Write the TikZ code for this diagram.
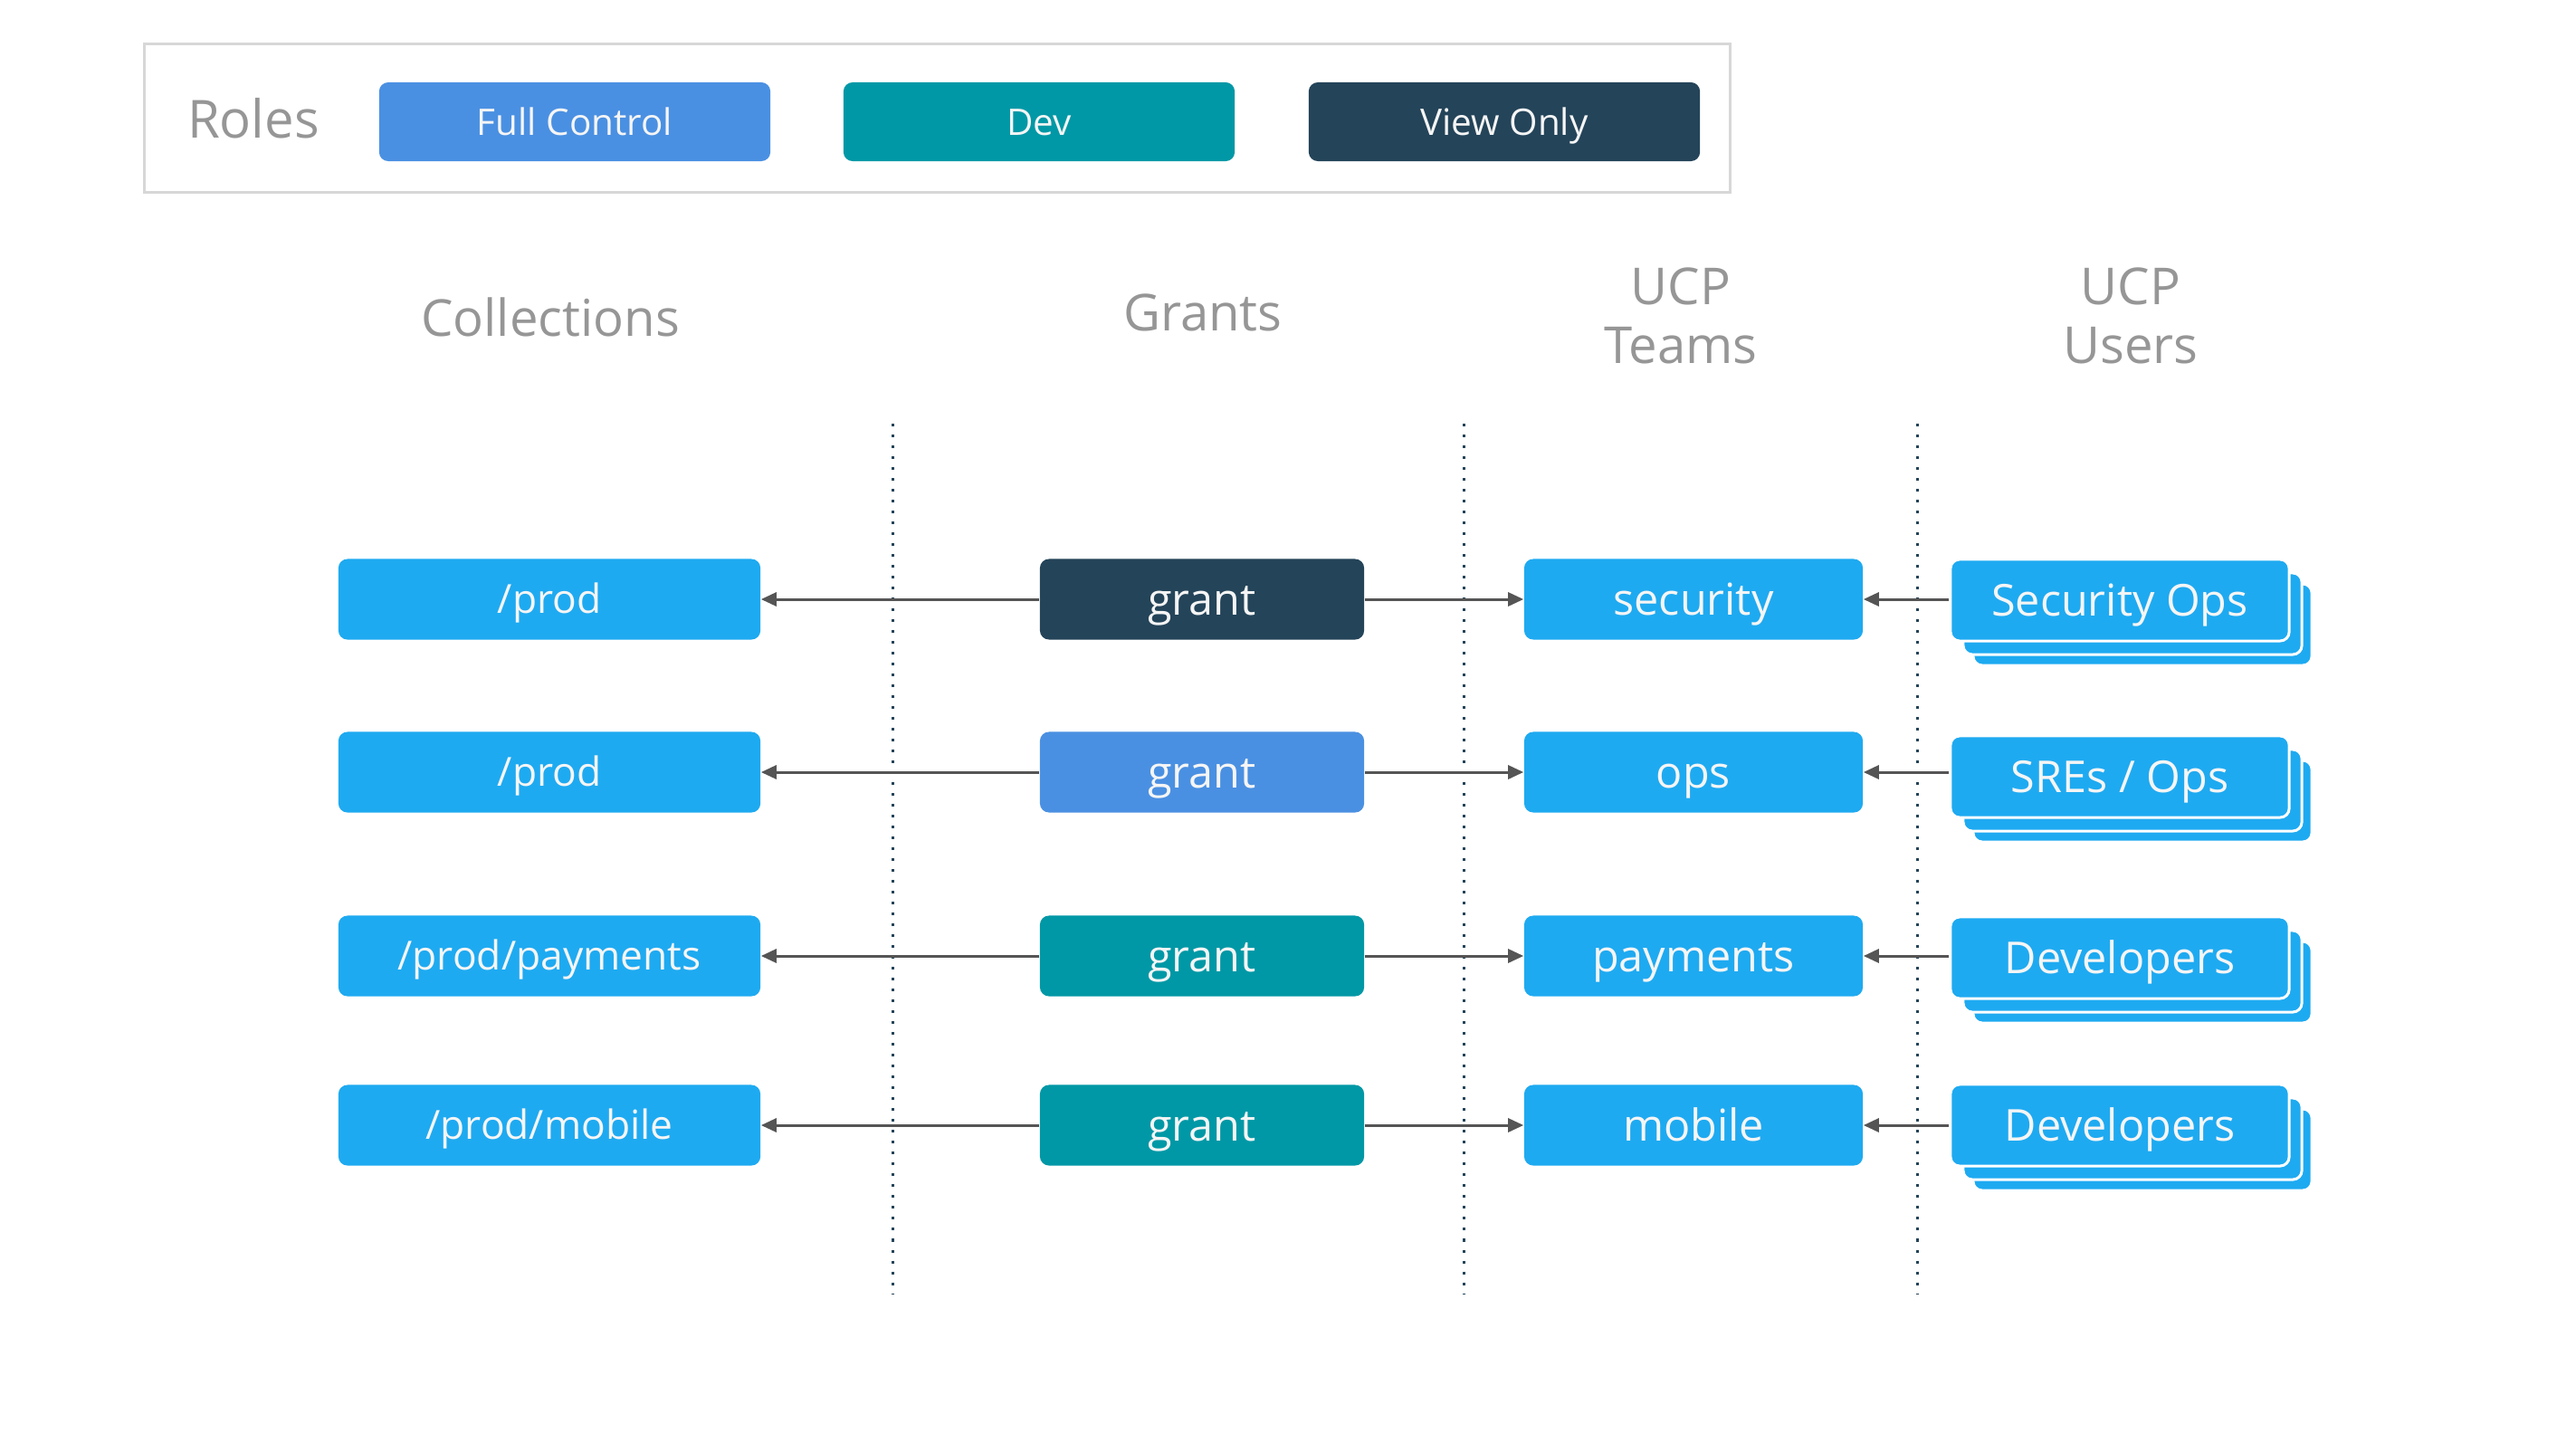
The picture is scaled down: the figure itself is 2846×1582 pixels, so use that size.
\documentclass[tikz,border=0pt]{standalone}
\usepackage{fontspec}
\setmainfont{Open Sans}
\usetikzlibrary{arrows.meta}
\definecolor{nodeblue}{RGB}{30,170,241}
\definecolor{fullc}{RGB}{74,144,226}
\definecolor{devc}{RGB}{0,152,166}
\definecolor{viewc}{RGB}{36,68,89}
\definecolor{hdr}{RGB}{150,150,150}
\definecolor{arr}{RGB}{85,85,85}
\definecolor{legborder}{RGB}{215,215,215}
\definecolor{txtw}{RGB}{245,245,245}
\tikzset{
  box/.style={rounded corners=0.1cm, inner sep=0pt, text=txtw, font=\fontsize{13.8}{16}\selectfont, text height=0.35cm, text depth=0pt},
  coll/.style={box, fill=nodeblue, minimum width=4.66cm, minimum height=0.89cm, font=\fontsize{12.6}{15}\selectfont, text height=0.31cm},
  grantbox/.style={box, minimum width=3.58cm, minimum height=0.89cm},
  team/.style={box, fill=nodeblue, minimum width=3.74cm, minimum height=0.89cm},
  user/.style={box, fill=nodeblue, draw=white, line width=0.03cm, minimum width=3.74cm, minimum height=0.90cm},
  userback/.style={rounded corners=0.1cm, fill=nodeblue, draw=white, line width=0.03cm, minimum width=3.74cm, minimum height=0.90cm, inner sep=0pt},
  legbox/.style={box, minimum width=4.32cm, minimum height=0.87cm, font=\fontsize{11.5}{14}\selectfont, text height=0.29cm},
  header/.style={text=hdr, font=\fontsize{16}{20}\selectfont, align=center},
  conn/.style={draw=arr, line width=0.03cm, -{Triangle[length=0.17cm,width=0.15cm]}},
  sep/.style={draw=viewc, line width=0.03cm, dash pattern=on 0.03cm off 0.09cm}
}
\begin{document}
\begin{tikzpicture}[x=0.01cm,y=-0.01cm]
\useasboundingbox[fill=white] (0,0) rectangle (2846,1582);
% legend
\node[draw=legborder, line width=0.03cm, minimum width=17.51cm, minimum height=1.63cm, inner sep=0pt] (legend) at (1035.5,130.5) {};
\node[text=hdr, font=\fontsize{16.5}{20}\selectfont, text height=0.41cm, text depth=0pt, inner sep=0pt] (roles) at (280,132) {Roles};
\node[legbox, fill=fullc] (lfull) at (635,134.5) {Full Control};
\node[legbox, fill=devc] (ldev) at (1148,134.5) {Dev};
\node[legbox, fill=viewc] (lview) at (1662,134.5) {View Only};
% headers
\node[header] (hcoll) at (608,350) {Collections};
\node[header] (hgrant) at (1329,345) {Grants};
\node[header] (hteam) at (1857,349) {UCP\\[-0.05cm]Teams};
\node[header] (huser) at (2354,349) {UCP\\[-0.05cm]Users};
% separators
\coordinate (s1t) at (986,468); \coordinate (s1b) at (986,1430);
\coordinate (s2t) at (1617,468); \coordinate (s2b) at (1617,1430);
\coordinate (s3t) at (2118,468); \coordinate (s3b) at (2118,1430);
\draw[sep] (s1t) -- (s1b);
\draw[sep] (s2t) -- (s2b);
\draw[sep] (s3t) -- (s3b);
% rows
\foreach \i/\y/\uy/\cname/\gcol/\tname/\uname in {
  1/662/663/{/prod}/viewc/security/{Security Ops},
  2/853/858/{/prod}/fullc/ops/{SREs / Ops},
  3/1056/1058/{/prod/payments}/devc/payments/Developers,
  4/1243/1243/{/prod/mobile}/devc/mobile/Developers}{
  \node[coll] (c\i) at (607,\y) {\cname};
  \node[grantbox, fill=\gcol] (g\i) at (1328,\y) {grant};
  \node[team] (t\i) at (1871,\y) {\tname};
  \node[userback] (ub\i) at (2367,\uy+27) {};
  \node[userback] (um\i) at (2356,\uy+15) {};
  \node[user] (u\i) at (2342,\uy) {\uname};
  \draw[conn] (g\i.west) -- (c\i.east);
  \draw[conn] (g\i.east) -- (t\i.west);
  \draw[conn] (t\i.east -| u\i.west) -- (t\i.east);
}
\end{tikzpicture}
\end{document}
